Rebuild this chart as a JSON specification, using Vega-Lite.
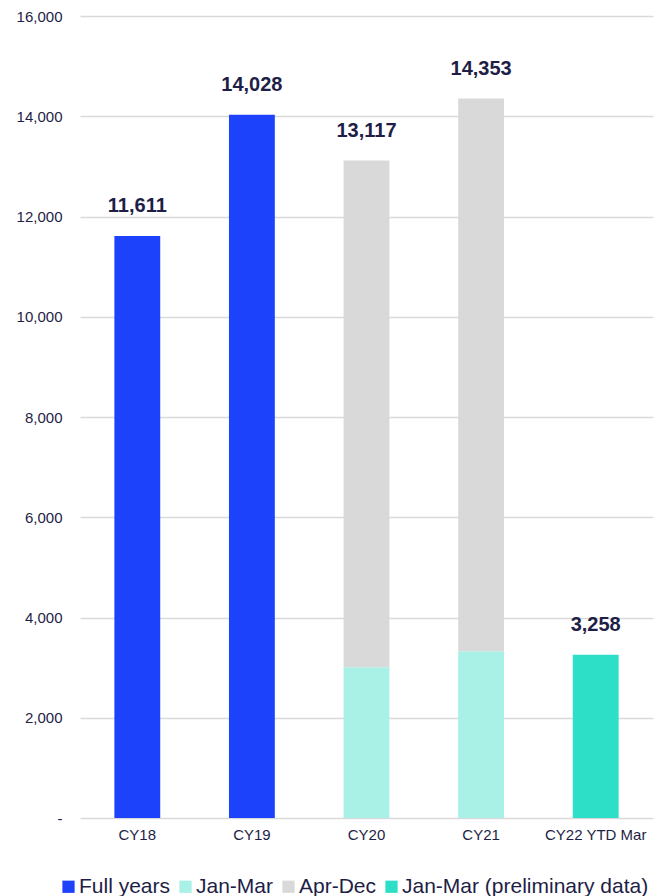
{
  "$schema": "https://vega.github.io/schema/vega-lite/v6.json",
  "width": 573,
  "height": 802,
  "autosize": "none",
  "padding": {"left": 80, "top": 16, "right": 3, "bottom": 78},
  "background": "white",
  "config": {
    "font": "Liberation Sans",
    "view": {"stroke": null}
  },
  "data": {
    "values": [
      {"year": "CY18", "segment": "Full years", "value": 11611, "seq": 1},
      {"year": "CY19", "segment": "Full years", "value": 14028, "seq": 1},
      {"year": "CY20", "segment": "Jan-Mar", "value": 3006, "seq": 2},
      {"year": "CY20", "segment": "Apr-Dec", "value": 10111, "seq": 3},
      {"year": "CY21", "segment": "Jan-Mar", "value": 3326, "seq": 2},
      {"year": "CY21", "segment": "Apr-Dec", "value": 11027, "seq": 3},
      {"year": "CY22 YTD Mar", "segment": "Jan-Mar (preliminary data)", "value": 3258, "seq": 4}
    ]
  },
  "encoding": {
    "x": {
      "field": "year",
      "type": "nominal",
      "sort": null,
      "scale": {"paddingInner": 0.6, "paddingOuter": 0.3},
      "axis": {
        "title": null,
        "labelAngle": 0,
        "labelFontSize": 15,
        "labelColor": "#1e1e46",
        "labelPadding": 9,
        "ticks": false,
        "domain": false
      }
    }
  },
  "layer": [
    {
      "mark": {"type": "bar"},
      "encoding": {
        "y": {
          "field": "value",
          "type": "quantitative",
          "aggregate": "sum",
          "stack": "zero",
          "scale": {"domain": [0, 16000]},
          "axis": {
            "title": null,
            "values": [0, 2000, 4000, 6000, 8000, 10000, 12000, 14000, 16000],
            "labelExpr": "datum.value == 0 ? '-\u00a0\u00a0' : format(datum.value, ',')",
            "labelFontSize": 15,
            "labelColor": "#1e1e46",
            "labelPadding": 18,
            "ticks": false,
            "domain": false,
            "grid": true,
            "gridColor": "#d9d9d9",
            "gridWidth": 1.5
          }
        },
        "color": {
          "field": "segment",
          "type": "nominal",
          "scale": {
            "domain": ["Full years", "Jan-Mar", "Apr-Dec", "Jan-Mar (preliminary data)"],
            "range": ["#1c42fb", "#a9f1e6", "#d9d9d9", "#2ddfc6"]
          },
          "legend": {
            "title": null,
            "orient": "none",
            "legendX": -22,
            "legendY": 860,
            "padding": 0,
            "direction": "horizontal",
            "symbolType": "square",
            "symbolSize": 150,
            "symbolStrokeWidth": 0,
            "labelFontSize": 21,
            "labelLimit": 0,
            "labelColor": "#1e1e46",
            "labelOffset": 0,
            "columnPadding": 4
          }
        },
        "order": {"field": "seq", "type": "quantitative"}
      }
    },
    {
      "transform": [
        {"aggregate": [{"op": "sum", "field": "value", "as": "total"}], "groupby": ["year"]}
      ],
      "mark": {
        "type": "text",
        "baseline": "alphabetic",
        "dy": -24,
        "fontSize": 20,
        "fontWeight": "bold",
        "color": "#1e1e46"
      },
      "encoding": {
        "y": {"field": "total", "type": "quantitative"},
        "text": {"field": "total", "type": "quantitative", "format": ","}
      }
    }
  ]
}
